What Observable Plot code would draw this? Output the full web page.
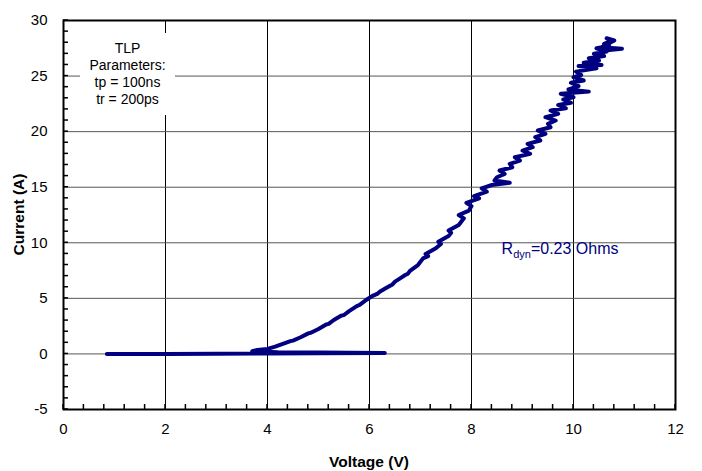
<!DOCTYPE html>
<html><head><meta charset="utf-8">
<script src="https://cdn.jsdelivr.net/npm/d3@7"></script>
<script src="https://cdn.jsdelivr.net/npm/@observablehq/plot@0.6"></script>
<style>
body{margin:0;background:#fff;font-family:"Liberation Sans",Arial,sans-serif;}
#wrap{position:relative;width:702px;height:471px;}
#note{position:absolute;left:80px;top:33px;width:95px;height:82px;background:#fff;text-align:center;font-size:14px;line-height:17px;padding-top:7px;box-sizing:border-box;color:#000;}
</style></head>
<body>
<div id="wrap"><div id="note"></div></div>
<script>
// TLP curve: voltage (V) and current (A)
const voltage = [0.85,2.0,3.0,4.0,5.0,6.3,5.0,4.2,
  3.7,3.8,4.0,4.15,4.3,4.45,4.5,4.65,4.8,4.85,5.0,5.15,5.2,5.3,5.45,5.5,5.6,5.75,5.8,5.95,6.05,6.15,
  6.2,6.35,6.45,6.5,6.6,6.7,6.75,6.8,6.95,7.05,7.15,7.1,7.3,7.4,7.35,7.55,7.6,7.55,7.75,7.85,
  7.75,7.95,8.0,7.9,8.15,8.05,8.3,8.2,8.4,8.75,8.45,8.5,8.65,8.55,8.8,8.75,8.95,8.85,9.15,9.0,
  9.2,9.1,9.35,9.25,9.45,9.3,9.55,9.5,9.65,9.45,9.7,9.55,9.85,9.7,9.95,9.8,10.0,9.75,10.3,9.9,
  10.1,9.95,10.2,10.0,10.15,10.05,10.45,10.1,10.55,10.2,10.5,10.3,10.6,10.4,10.65,10.45,10.7,10.6,10.75,10.65,
  10.8,10.55,10.95,10.7];
const current = [0.0,0.0,0.02,0.03,0.05,0.08,0.12,0.15,
  0.25,0.35,0.45,0.65,0.9,1.15,1.2,1.5,1.85,1.9,2.25,2.65,2.7,3.05,3.45,3.5,3.85,4.3,4.4,4.9,5.2,5.4,
  5.6,6.0,6.25,6.5,6.8,7.1,7.2,7.5,8.0,8.6,8.8,9.0,9.5,9.9,10.1,10.6,10.9,11.1,11.6,12.2,
  12.5,12.9,13.3,13.6,14.0,14.2,14.6,14.9,15.2,15.4,15.6,15.9,16.2,16.5,16.8,17.1,17.4,17.7,18.0,18.3,
  18.6,18.9,19.2,19.5,19.8,20.1,20.4,20.7,21.0,21.3,21.6,21.9,22.1,22.4,22.6,22.9,23.1,23.4,23.6,23.8,
  24.1,24.4,24.6,24.9,25.1,25.4,25.7,25.9,26.0,26.2,26.4,26.6,26.8,27.0,27.2,27.5,27.7,27.9,28.2,28.4,
  28.2,27.6,27.45,27.35];
const xTicks = [0,2,4,6,8,10,12];
const yTicks = [-5,0,5,10,15,20,25,30];
const xMinor = d3.range(0, 12.001, 0.4);
const yMinor = d3.range(-5, 30.001, 1);
const noteLines = ["TLP","Parameters:","tp = 100ns","tr = 200ps"];
const xLabel = "Voltage (V)";
const yLabel = "Current (A)";

const pts = voltage.map((v,i)=>({v, c: current[i]}));
const navy = "#000080";

const chart = Plot.plot({
  width:702, height:471,
  marginLeft:63, marginRight:27, marginTop:20, marginBottom:62,
  style:{fontFamily:"'Liberation Sans', Arial, sans-serif", fontSize:"15px", color:"black", background:"white"},
  x:{domain:[0,12]},
  y:{domain:[-5,30]},
  marks:[
    Plot.gridX(xTicks.slice(1,-1), {stroke:"black", strokeOpacity:1}),
    Plot.gridY(yTicks.slice(1,-1), {stroke:"#555", strokeOpacity:1}),
    Plot.axisX(xTicks, {tickSize:0, tickPadding:14, label:null, fontSize:15, tickFormat:d=>String(d)}),
    Plot.axisY(yTicks, {tickSize:0, tickPadding:16, label:null, fontSize:15, tickFormat:d=>String(d)}),
    Plot.line(pts, {x:"v", y:"c", stroke:navy, strokeWidth:4, strokeLinejoin:"round", strokeLinecap:"round"}),
    Plot.frame({stroke:"black", strokeWidth:2})
  ]
});

const svg = d3.select(chart);
const sx = chart.scale("x"), sy = chart.scale("y");
const x0 = sx.apply(0), y0 = sy.apply(-5);
// minor ticks, inward, positioned with the chart's scales
const tk = svg.append("g").attr("stroke","black").attr("stroke-width",1.5);
xMinor.forEach(v => tk.append("line").attr("x1", sx.apply(v)).attr("x2", sx.apply(v)).attr("y1", y0).attr("y2", y0-5));
yMinor.forEach(v => tk.append("line").attr("y1", sy.apply(v)).attr("y2", sy.apply(v)).attr("x1", x0).attr("x2", x0+5));

const midX = (sx.apply(0)+sx.apply(12))/2;
const midY = (sy.apply(-5)+sy.apply(30))/2;
svg.append("text").attr("x", midX).attr("y", 467).attr("text-anchor","middle")
  .attr("font-weight","bold").attr("font-size",15.5).text(xLabel);
svg.append("text").attr("transform",`translate(24,${midY}) rotate(-90)`).attr("text-anchor","middle")
  .attr("font-weight","bold").attr("font-size",15.5).text(yLabel);
const rt = svg.append("text").attr("x", sx.apply(8.6)).attr("y", sy.apply(9.4)+5)
  .attr("text-anchor","start").attr("fill", navy).attr("font-size",16);
rt.append("tspan").text("R");
rt.append("tspan").attr("font-size",11).attr("dy",4).text("dyn");
rt.append("tspan").attr("dy",-4).text("=0.23 Ohms");

const wrap = document.getElementById("wrap");
wrap.insertBefore(chart, wrap.firstChild);
document.getElementById("note").innerHTML = noteLines.join("<br>");
</script>
</body></html>
